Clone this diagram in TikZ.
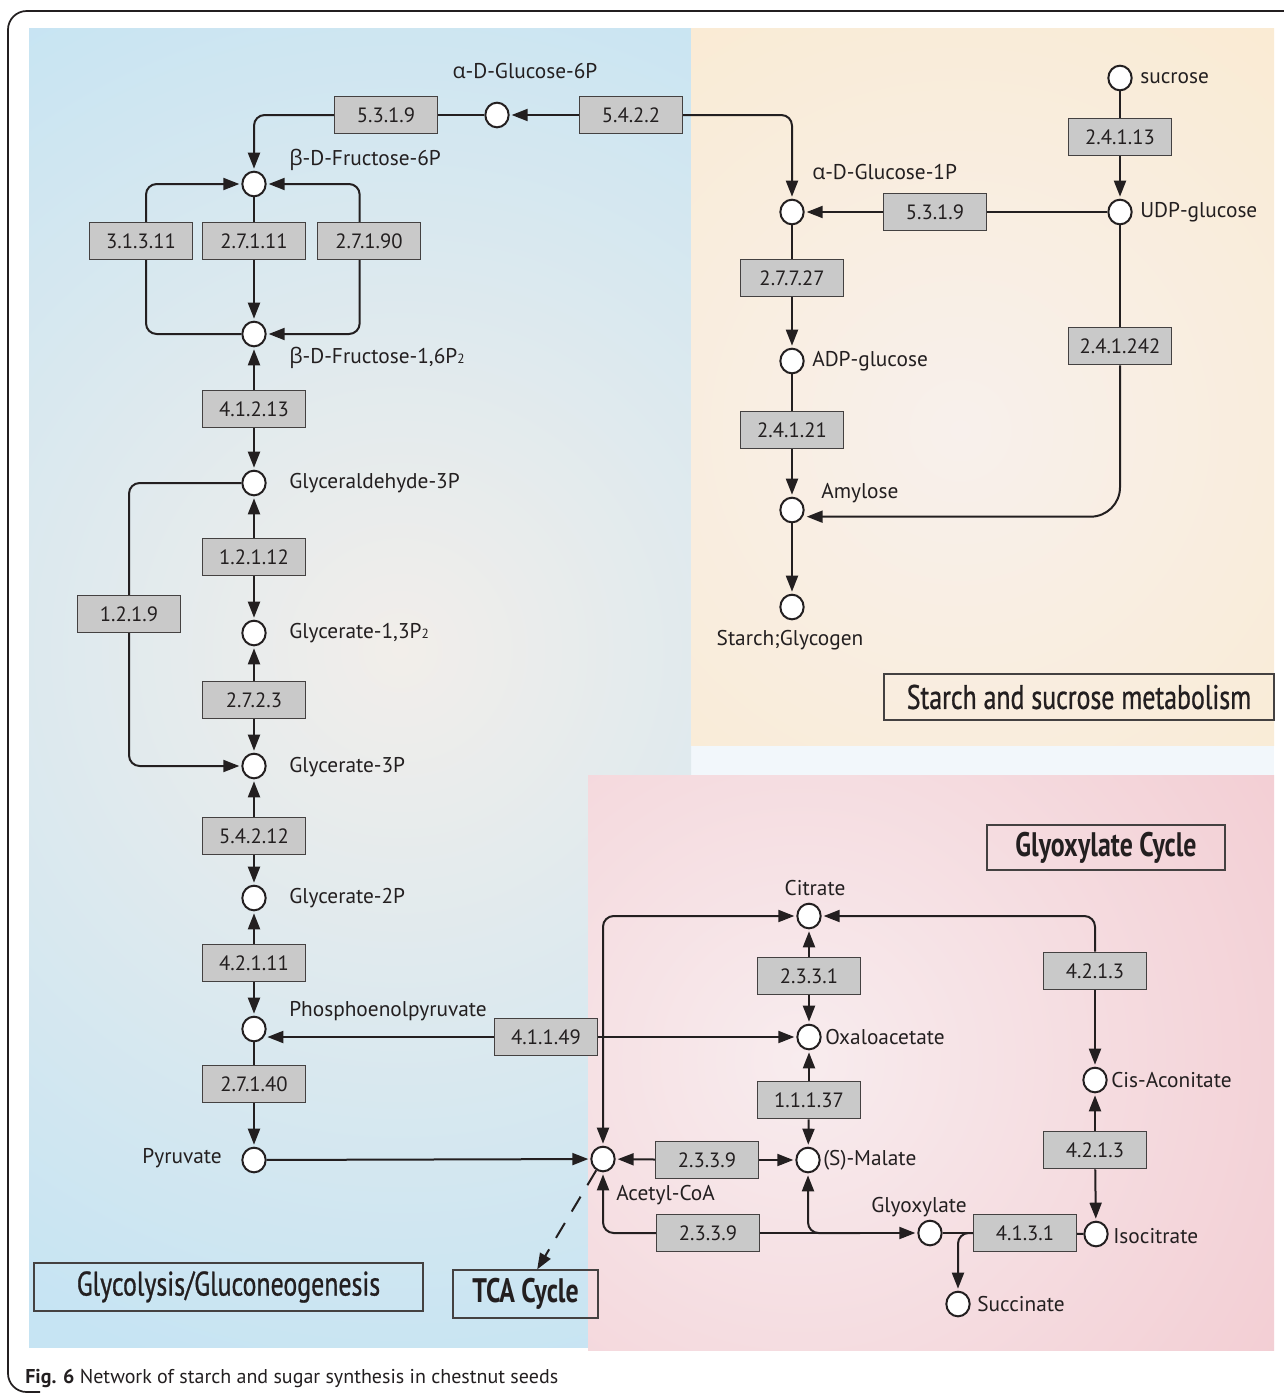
\documentclass[tikz,border=0pt]{standalone}
\usepackage{fontspec}
\setmainfont{PT Sans}
\newfontfamily\condfont[FakeStretch=0.76,FakeBold=0.8]{PT Sans}
\newfontfamily\condboldfont[FakeStretch=0.76]{PT Sans Bold}
\newfontfamily\grkfont{Open Sans}
\usetikzlibrary{arrows.meta,shapes.geometric,calc}
\pgfdeclarelayer{bg}
\pgfdeclarelayer{edges}
\pgfsetlayers{bg,edges,main}
\definecolor{txt}{HTML}{231F20}
\definecolor{boxgray}{HTML}{C9C9C9}
\definecolor{blueout}{HTML}{C6E4F3}
\definecolor{bluein}{HTML}{F2EEEA}
\definecolor{orout}{HTML}{FAEACF}
\definecolor{orin}{HTML}{F8F0EC}
\definecolor{pkout}{HTML}{F2CCD2}
\definecolor{pkin}{HTML}{F8ECEE}
\definecolor{gapcol}{HTML}{F2F7FB}
\newcommand{\alp}{{\grkfont α}}
\newcommand{\bet}{{\grkfont β}}
\newcommand{\mysub}[1]{{\fontsize{10}{10}\selectfont #1}}
\tikzset{
  met/.style={ellipse,draw=txt,fill=white,line width=1.5pt,minimum width=17.5pt,minimum height=18.5pt,inner sep=0pt},
  ecbox/.style={rectangle,draw=txt!85,fill=boxgray,line width=0.9pt,minimum width=77pt,minimum height=28pt,inner sep=0pt,text=txt,font=\fontsize{15.5}{17}\selectfont},
  lbl/.style={inner sep=0pt,text=txt,font=\fontsize{16}{18}\selectfont},
  ttl/.style={rectangle,draw=txt!85,line width=0.9pt,inner sep=0pt,text=txt,font=\condfont\fontsize{25.5}{28}\selectfont},
  ttlb/.style={ttl,font=\condboldfont\fontsize{25.5}{28}\selectfont},
  mtip/.tip={Triangle[length=12pt,width=9pt]},
  conn/.style={draw=txt,line width=1.5pt},
  arr/.style={conn,-mtip,shorten >=1.5pt},
  barr/.style={conn,mtip-mtip,shorten >=1.5pt,shorten <=1.5pt},
  sarr/.style={conn,mtip-,shorten <=1.5pt},
  rc/.style={rounded corners=8pt},
  dsh/.style={conn,-mtip,dash pattern=on 13pt off 10pt}
}
\begin{document}
\begin{tikzpicture}[x=0.75pt,y=-0.75pt]
\useasboundingbox (0,0) rectangle (1284,1393);
% ---------- nodes ----------
% glycolysis
\node[lbl] (lg6p) at (525,71) {\alp-D-Glucose-6P};
\node[ecbox] (b5319a) at (386,115) {5.3.1.9};
\node[met] (g6p) at (497,115) {};
\node[ecbox] (b5422) at (631,115) {5.4.2.2};
\node[met] (f6p) at (254,184) {};
\node[lbl,anchor=west] (lf6p) at (289,160) {\bet-D-Fructose-6P};
\node[ecbox] (b31311) at (141,241) {3.1.3.11};
\node[ecbox] (b27111) at (254,241) {2.7.1.11};
\node[ecbox] (b27190) at (369,241) {2.7.1.90};
\node[met] (f16p) at (254,334) {};
\node[lbl,anchor=west] (lf16p) at (289,358) {\bet-D-Fructose-1,6P\mysub{2}};
\node[ecbox] (b41213) at (254,409) {4.1.2.13};
\node[met] (g3p) at (254,483) {};
\node[lbl,anchor=west] (lg3p) at (289,483) {Glyceraldehyde-3P};
\node[ecbox] (b12112) at (254,557) {1.2.1.12};
\node[ecbox] (b1219) at (129,614) {1.2.1.9};
\node[met] (g13p) at (254,633) {};
\node[lbl,anchor=west] (lg13p) at (289,633) {Glycerate-1,3P\mysub{2}};
\node[ecbox] (b2723) at (254,700) {2.7.2.3};
\node[met] (gly3p) at (254,766) {};
\node[lbl,anchor=west] (lgly3p) at (289,767) {Glycerate-3P};
\node[ecbox] (b54212) at (254,836) {5.4.2.12};
\node[met] (g2p) at (254,898) {};
\node[lbl,anchor=west] (lg2p) at (289,898) {Glycerate-2P};
\node[ecbox] (b42111) at (254,963) {4.2.1.11};
\node[met] (pep) at (254,1029) {};
\node[lbl,anchor=west] (lpep) at (289,1011) {Phosphoenolpyruvate};
\node[ecbox] (b41149) at (546,1037) {4.1.1.49};
\node[ecbox] (b27140) at (254,1084) {2.7.1.40};
\node[met] (pyr) at (254,1160) {};
\node[lbl,anchor=east] (lpyr) at (222,1158) {Pyruvate};
% starch and sucrose
\node[met] (sucrose) at (1120,78) {};
\node[lbl,anchor=west] (lsuc) at (1140,78) {sucrose};
\node[ecbox] (b24113) at (1120,137) {2.4.1.13};
\node[met] (udpg) at (1120,212) {};
\node[lbl,anchor=west] (ludpg) at (1140,212) {UDP-glucose};
\node[ecbox] (b5319b) at (935,212) {5.3.1.9};
\node[met] (g1p) at (792,212) {};
\node[lbl,anchor=west] (lg1p) at (812,172) {\alp-D-Glucose-1P};
\node[ecbox] (b27727) at (792,278) {2.7.7.27};
\node[met] (adpg) at (792,361) {};
\node[lbl,anchor=west] (ladpg) at (812,361) {ADP-glucose};
\node[ecbox] (b24121) at (792,430) {2.4.1.21};
\node[ecbox] (b241242) at (1120,346) {2.4.1.242};
\node[met] (amylose) at (792,510) {};
\node[lbl,anchor=west] (lamy) at (821,493) {Amylose};
\node[met] (starch) at (792,607) {};
\node[lbl] (lstarch) at (790,640) {Starch;Glycogen};
% glyoxylate cycle
\node[met] (acoa) at (603,1159) {};
\node[lbl,anchor=west] (lacoa) at (616,1195) {Acetyl-CoA};
\node[met] (citrate) at (809,916) {};
\node[lbl] (lcit) at (815,888) {Citrate};
\node[ecbox] (b2331) at (809,976) {2.3.3.1};
\node[met] (oaa) at (809,1037) {};
\node[lbl,anchor=west] (loaa) at (825,1037) {Oxaloacetate};
\node[ecbox] (b11137) at (809,1100) {1.1.1.37};
\node[met] (malate) at (808,1160) {};
\node[lbl,anchor=west] (lmal) at (823,1160) {(S)-Malate};
\node[ecbox] (b2339a) at (707,1160) {2.3.3.9};
\node[ecbox] (b2339b) at (708,1233) {2.3.3.9};
\node[met] (glyox) at (930,1233) {};
\node[lbl] (lglyox) at (919,1207) {Glyoxylate};
\node[ecbox] (b4131) at (1025,1233) {4.1.3.1};
\node[met] (isocit) at (1096,1234) {};
\node[lbl,anchor=west] (liso) at (1113,1236) {Isocitrate};
\node[ecbox] (b4213b) at (1095,1150) {4.2.1.3};
\node[met] (cisacon) at (1095,1080) {};
\node[lbl,anchor=west] (lcis) at (1111,1080) {Cis-Aconitate};
\node[ecbox] (b4213a) at (1095,971) {4.2.1.3};
\node[met] (succ) at (958,1304) {};
\node[lbl,anchor=west] (lsucc) at (977,1304) {Succinate};
\coordinate (brk) at (860,1233);
% titles
\node[ttl,minimum width=292.5pt,minimum height=34.5pt] (tstarch) at (1079,697) {Starch and sucrose metabolism};
\node[ttlb,minimum width=178.5pt,minimum height=33.75pt] (tglyox) at (1106,847.5) {Glyoxylate Cycle};
\node[ttl,minimum width=291.75pt,minimum height=36pt] (tglyc) at (228.5,1287) {Glycolysis/Gluconeogenesis};
\node[ttlb,minimum width=108.75pt,minimum height=36pt] (ttca) at (525.5,1294) {TCA Cycle};
\node[anchor=base west,inner sep=0pt,text=txt,font=\fontsize{15}{17}\selectfont] (cap) at (25,1383) {\textbf{Fig. 6} Network of starch and sugar synthesis in chestnut seeds};
% ---------- background ----------
\begin{pgfonlayer}{bg}
\fill[white] (0,0) rectangle (1284,1393);
\fill[gapcol] (691,745) rectangle (1274,775);
\begin{scope}
\clip (29,28) rectangle (691,1347);
\shade[inner color=bluein,outer color=blueout] (-350,-100) rectangle (1150,1400);
\end{scope}
\begin{scope}
\clip (691,28) rectangle (1274,745);
\shade[inner color=orin,outer color=orout] (360,-170) rectangle (1560,1030);
\end{scope}
\begin{scope}
\clip (588,775) rectangle (1274,1350);
\shade[inner color=pkin,outer color=pkout] (200,460) rectangle (1400,1660);
\end{scope}
\draw[txt,line width=1.3pt,rounded corners=14pt] (1300,11) -- (8,11) -- (8,1392) -- (40,1392);
\end{pgfonlayer}
% ---------- connectors ----------
\begin{pgfonlayer}{edges}
\draw[arr] (b5422) -- (g6p);
\draw[conn] (g6p) -- (b5319a);
\draw[arr,rc] (b5319a.west) -| (f6p);
\draw[arr,rc] (b5422.east) -| (g1p);
\draw[conn] (f6p) -- (b27111);
\draw[arr] (b27111) -- (f16p);
\draw[arr,rc] (f16p) -| ([xshift=3.75pt]b31311.center) |- (f6p);
\draw[barr,rc] (f16p) -| ([xshift=-7pt]b27190.center) |- (f6p);
\draw[arr] (b41213) -- (f16p);
\draw[arr] (b41213) -- (g3p);
\draw[arr] (b12112) -- (g3p);
\draw[arr] (b12112) -- (g13p);
\draw[arr,rc] (g3p) -| (b1219.center) |- (gly3p);
\draw[arr] (b2723) -- (g13p);
\draw[arr] (b2723) -- (gly3p);
\draw[arr] (b54212) -- (gly3p);
\draw[arr] (b54212) -- (g2p);
\draw[arr] (b42111) -- (g2p);
\draw[arr] (b42111) -- (pep);
\draw[conn] (pep) -- (b27140);
\draw[arr] (b27140) -- (pyr);
\draw[arr] (b41149.west) -- ([xshift=-1pt]b41149.west -| pep.east);
\draw[arr] (b41149) -- (oaa);
\draw[arr] (pyr) -- (acoa);
\draw[barr,rc] (acoa) |- (citrate);
\draw[arr] (b2331) -- (citrate);
\draw[arr] (b2331) -- (oaa);
\draw[arr] (b11137) -- (oaa);
\draw[arr] (b11137) -- (malate);
\draw[arr] (b2339a) -- (acoa);
\draw[arr] (b2339a) -- (malate);
\draw[arr,rc] (b2339b) -| (acoa);
\draw[arr] (b2339b) -- (glyox);
\draw[sarr,rc] (malate) |- (brk);
\draw[sarr,rc] (citrate) -| (b4213a);
\draw[arr] (b4213a) -- (cisacon);
\draw[arr] (b4213b) -- (cisacon);
\draw[arr] (b4213b) -- (isocit);
\draw[conn] (isocit) -- (b4131);
\draw[conn] (b4131) -- (glyox);
\draw[arr,rc] (b4131.west) -| (succ);
\draw[dsh] (acoa) -- ($(ttca.north west)!0.58!(ttca.north east)$);
\draw[conn] (sucrose) -- (b24113);
\draw[arr] (b24113) -- (udpg);
\draw[conn] (udpg) -- (b5319b);
\draw[arr] (b5319b) -- (g1p);
\draw[conn] (g1p) -- (b27727);
\draw[arr] (b27727) -- (adpg);
\draw[conn] (adpg) -- (b24121);
\draw[arr] (b24121) -- (amylose);
\draw[conn] (udpg) -- (b241242);
\draw[arr,rounded corners=22pt] (b241242) |- ([yshift=-5pt]amylose.east);
\draw[arr] (amylose) -- (starch);
\end{pgfonlayer}
\end{tikzpicture}
\end{document}
